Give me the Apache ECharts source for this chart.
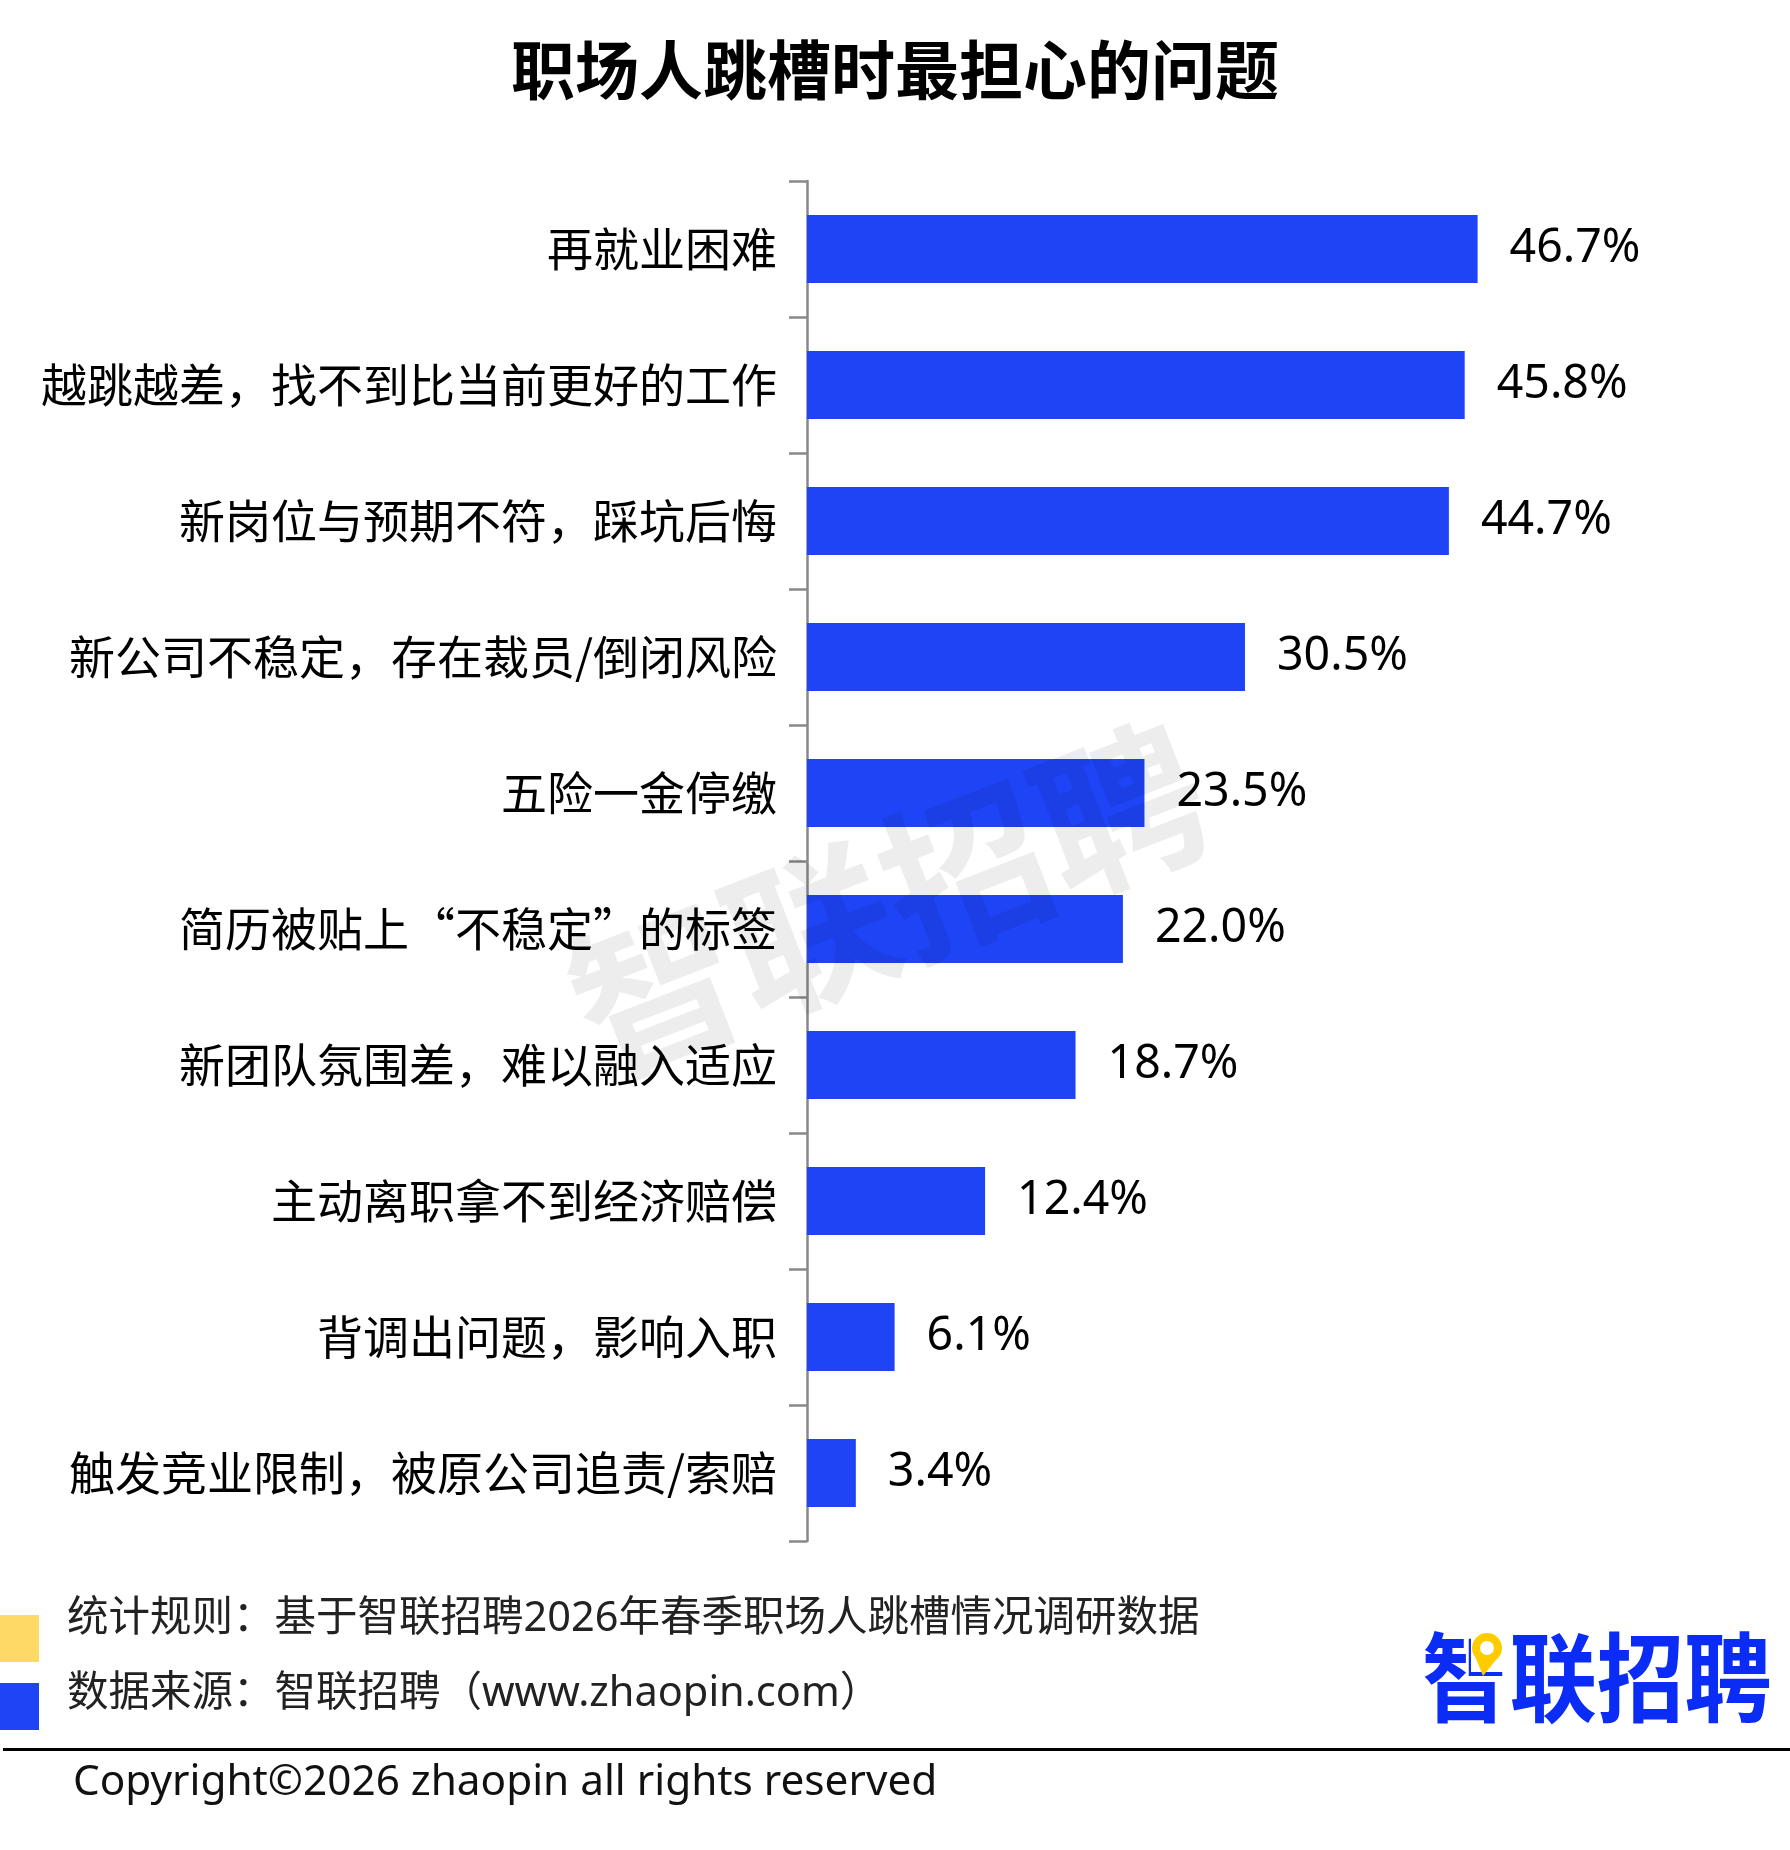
<!DOCTYPE html>
<html><head><meta charset="utf-8">
<script src="https://cdn.jsdelivr.net/npm/echarts@6/dist/echarts.min.js"></script>
<style>html,body{margin:0;padding:0;background:#fff}#c{width:1790px;height:1850px}</style>
</head><body><div id="c"></div>
<script>
const categories = ['再就业困难','越跳越差，找不到比当前更好的工作','新岗位与预期不符，踩坑后悔','新公司不稳定，存在裁员/倒闭风险','五险一金停缴','简历被贴上“不稳定”的标签','新团队氛围差，难以融入适应','主动离职拿不到经济赔偿','背调出问题，影响入职','触发竞业限制，被原公司追责/索赔'];
const values = [46.7,45.8,44.7,30.5,23.5,22.0,18.7,12.4,6.1,3.4];
const titleText = '职场人跳槽时最担心的问题';
const noteRule = '统计规则：基于智联招聘2026年春季职场人跳槽情况调研数据';
const noteSource = '数据来源：智联招聘（www.zhaopin.com）';
const copyright = 'Copyright©2026 zhaopin all rights reserved';

const CJK = "'Noto Sans CJK SC', 'Noto Sans', sans-serif";
const LAT = "'Noto Sans', 'Noto Sans CJK SC', sans-serif";
const BLUE = '#1E44F6';
const YELLOW = '#FFD966';

const chart = echarts.init(document.getElementById('c'), null, {renderer:'canvas'});
chart.setOption({
  backgroundColor:'#fff',
  animation:false,
  grid:{left:807, right:265, top:181, bottom:309, containLabel:false},
  xAxis:{type:'value', min:0, max:50, show:false},
  yAxis:{type:'category', data:categories, inverse:true,
    axisLine:{show:true, lineStyle:{color:'#888', width:2.5}},
    axisTick:{show:true, length:18, lineStyle:{color:'#888', width:2.5}},
    axisLabel:{color:'#000', fontSize:46, fontFamily:CJK, margin:30},
    splitLine:{show:false}
  },
  series:[{type:'bar', data:values, barWidth:68, itemStyle:{color:BLUE},
    label:{show:true, position:'right', distance:32, color:'#000', fontSize:46.5, fontFamily:LAT,
      formatter:p=>p.value.toFixed(1)+'%'}
  }],
  graphic:[
    {type:'text', left:'center', top:38, style:{text:titleText, fontSize:64, fontWeight:'bold', fill:'#000', fontFamily:CJK}},
    {type:'text', x:888, y:900, rotation:0.37, z:100, style:{text:'智联招聘', fontSize:166, fontWeight:'bold', fill:'rgba(0,0,0,0.07)', fontFamily:CJK, align:'center', verticalAlign:'middle'}},
    {type:'rect', shape:{x:0, y:1615, width:39, height:47}, style:{fill:YELLOW}},
    {type:'rect', shape:{x:0, y:1683, width:39, height:47}, style:{fill:BLUE}},
    {type:'text', x:67, y:1619, style:{text:noteRule, fontSize:41.5, fill:'#222', fontFamily:LAT, verticalAlign:'middle'}},
    {type:'text', x:67, y:1694, style:{text:noteSource, fontSize:41.5, fill:'#222', fontFamily:LAT, verticalAlign:'middle'}},
    {type:'rect', shape:{x:3, y:1748, width:1787, height:3}, style:{fill:'#000'}},
    {type:'text', x:73, y:1783, style:{text:copyright, fontSize:42.3, fill:'#111', fontFamily:LAT, verticalAlign:'middle'}},
    {type:'text', x:1422, y:1677, scaleX:0.95, scaleY:1.05, style:{text:'智联招聘', fontSize:92, fontWeight:'bold', fill:'#0A2CF5', fontFamily:CJK, verticalAlign:'middle'}},
    {type:'rect', z:10, shape:{x:1471, y:1630, width:36, height:42}, style:{fill:'#fff'}},
    {type:'polygon', z:11, shape:{points:[[1475,1656],[1499,1656],[1483,1676]]}, style:{fill:'#FFCC00'}},
    {type:'circle', z:11, shape:{cx:1487, cy:1648, r:15}, style:{fill:'#FFCC00'}},
    {type:'circle', z:12, shape:{cx:1487, cy:1648, r:7}, style:{fill:'#fff'}}
  ]
});
</script></body></html>
